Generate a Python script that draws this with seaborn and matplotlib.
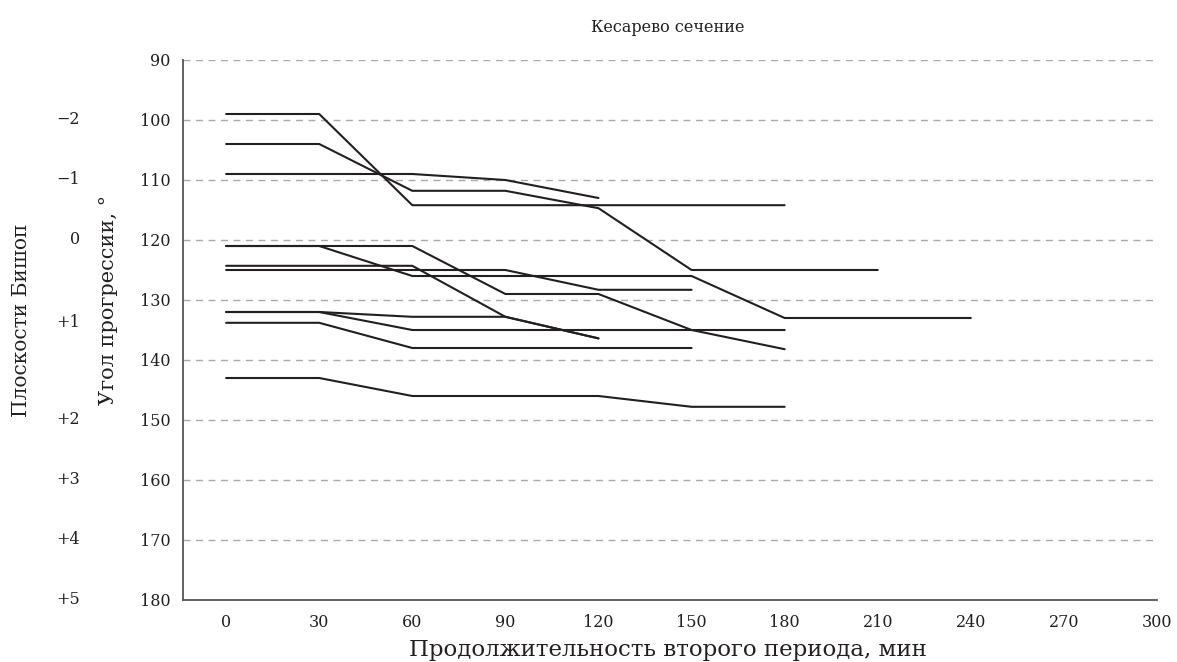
import numpy as np
import pandas as pd
import matplotlib
matplotlib.use("Agg")
import matplotlib.pyplot as plt
import matplotlib.transforms as mtransforms
import seaborn as sns

# ---- data ----
minutes = [0, 30, 60, 90, 120, 150, 180, 210, 240]
case_01 = [99, 99, 114.2, 114.2, 114.2, 114.2, 114.2]
case_02 = [104, 104, 111.8, 111.8, 114.7, 125, 125, 125]
case_03 = [109, 109, 109, 110, 113]
case_04 = [121, 121, 121, 129, 129, 135, 138.2]
case_05 = [121, 121, 126, 126, 126, 126, 133, 133, 133]
case_06 = [124.3, 124.3, 124.3, 132.8, 136.4]
case_07 = [125, 125, 125, 125, 128.3, 128.3]
case_08 = [132, 132, 132.8, 132.8, 136.4]
case_09 = [132, 132, 135, 135, 135, 135, 135]
case_10 = [133.8, 133.8, 138, 138, 138, 138]
case_11 = [143, 143, 146, 146, 146, 147.8, 147.8]
cases = [case_01, case_02, case_03, case_04, case_05, case_06,
         case_07, case_08, case_09, case_10, case_11]

angle_ticks = [90, 100, 110, 120, 130, 140, 150, 160, 170, 180]
x_ticks = [0, 30, 60, 90, 120, 150, 180, 210, 240, 270, 300]
bishop_labels = ["\u22122", "\u22121", "0", "+1", "+2", "+3", "+4", "+5"]
bishop_pos = [100, 110, 120, 133.8, 150, 160, 170, 180]

title = "Кесарево сечение"
xlabel = "Продолжительность второго периода, мин"
ylabel = "Угол прогрессии, °"
bishop_title = "Плоскости Бишоп"

rows = []
for i, vals in enumerate(cases):
    for t, v in zip(minutes, vals):
        rows.append({"case": i, "t": t, "angle": v})
df = pd.DataFrame(rows)

# ---- style ----
sns.set_theme(style="white")
plt.rcParams["font.family"] = ["DejaVu Serif", "DejaVu Sans"]

fig = plt.figure(figsize=(11.77, 6.62), dpi=100)
ax = fig.add_axes([183/1177, 1 - 600/662, (1157-183)/1177, (600-60)/662])

sns.lineplot(data=df, x="t", y="angle", units="case", estimator=None,
             color="#231f20", lw=1.5, ax=ax, legend=False, sort=False)

ax.set_xlim(-13.9, 300)
ax.set_ylim(180, 90)
ax.set_yticks(angle_ticks)
ax.set_xticks(x_ticks)
ax.tick_params(axis="both", length=0, labelsize=11.5, colors="#231f20")
ax.tick_params(axis="y", pad=9)
ax.tick_params(axis="x", pad=10)

for y in angle_ticks[:-1]:
    ax.axhline(y, color="#aaaaaa", lw=1, ls=(0, (5, 4)), zorder=0)

for s in ["top", "right"]:
    ax.spines[s].set_visible(False)
for s in ["left", "bottom"]:
    ax.spines[s].set_color("#555555")
    ax.spines[s].set_linewidth(1.3)

ax.set_xlabel("")
ax.set_ylabel("")
fig.text(668/1177, 1 - 27/662, title, ha="center", va="center",
         fontsize=11.5, color="#231f20")
fig.text(668/1177, 1 - 650/662, xlabel, ha="center", va="center",
         fontsize=16.5, color="#231f20")

trans = mtransforms.blended_transform_factory(fig.transFigure, ax.transData)
for lab, pos in zip(bishop_labels, bishop_pos):
    ax.text(80/1177, pos, lab, transform=trans, ha="right", va="center",
            fontsize=11.5, color="#231f20")

fig.text(108/1177, 1 - 300/662, ylabel, rotation=90, ha="center", va="center",
         fontsize=15, color="#231f20")
fig.text(22/1177, 1 - 320/662, bishop_title, rotation=90, ha="center", va="center",
         fontsize=14.5, color="#231f20")

fig.savefig("out.png", dpi=100)
